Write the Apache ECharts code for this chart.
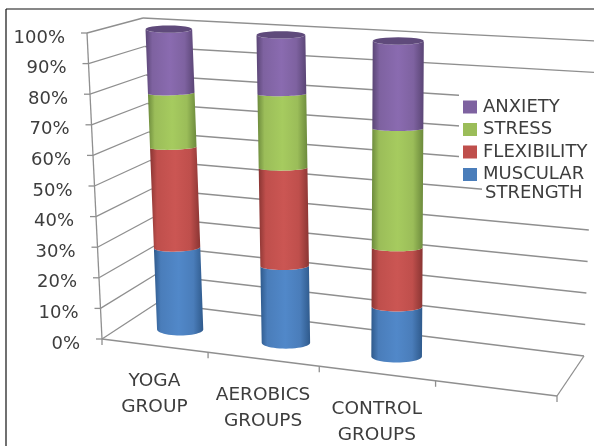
<!DOCTYPE html>
<html>
<head>
<meta charset="utf-8">
<style>html,body{margin:0;padding:0;background:#fff}#chart{width:594px;height:446px}</style>
<script src="https://cdn.jsdelivr.net/npm/echarts@6/dist/echarts.min.js"></script>
</head>
<body>
<div id="chart"></div>
<script>
// Chart content
const categories = ['YOGA\nGROUP', 'AEROBICS\nGROUPS', 'CONTROL\nGROUPS', ''];
const yTickLabels = ['0%', '10%', '20%', '30%', '40%', '50%', '60%', '70%', '80%', '90%', '100%'];
const seriesNames = ['MUSCULAR', 'FLEXIBILITY', 'STRESS', 'ANXIETY'];
const muscular = [27.3, 25.0, 15.8];
const flexibility = [33.4, 31.8, 18.7];
const stress = [18.0, 24.0, 37.7];
const anxiety = [21.3, 19.2, 27.8];
const stacked = [muscular, flexibility, stress, anxiety];

// Shaded cylinder colours, bottom segment first: edge, body, highlight
const shades = [
  ['#2f5a8c', '#4a7dba', '#5188c9'],
  ['#8a3533', '#bf4f4c', '#cb5653'],
  ['#6c8a3c', '#9bbd59', '#a6cb5f'],
  ['#5a4575', '#7e62a0', '#8a6bb0']
];

// Corners of the drawn box: front/back, left/right, floor/ceiling
const GRID = { left: 102, top: 33, width: 455, height: 306 };
const BOX = {
  flb: [102, 339], frb: [557, 396], blb: [157, 303], brb: [584, 356],
  flt: [87, 33], frt: [569, 58], blt: [143, 18], brt: [596, 41]
};
const WIDEN = -0.09;    // slots grow slightly toward the right
const BAR_DEPTH = 0.45; // cylinder axis position between front and back
const BAR_SHIFT = 0.006;
const BAR_HALF = 0.053;

const mix = (a, b, t) => [a[0] + (b[0] - a[0]) * t, a[1] + (b[1] - a[1]) * t];

function project(u, v, w) {
  const s = u + WIDEN * u * (1 - u);
  const floor = mix(mix(BOX.flb, BOX.frb, s), mix(BOX.blb, BOX.brb, s), v);
  const ceil = mix(mix(BOX.flt, BOX.frt, s), mix(BOX.blt, BOX.brt, s), v);
  return mix(floor, ceil, w);
}

// Axis pixels to box fractions
const toUW = (p) => [(p[0] - GRID.left) / GRID.width, (GRID.top + GRID.height - p[1]) / GRID.height];

const LINE = { stroke: '#8f8f8f', lineWidth: 1.3 };
const TEXT = '#3d3d3d';
const seg = (a, b, style) => ({
  type: 'line',
  shape: { x1: a[0], y1: a[1], x2: b[0], y2: b[1] },
  style: style || LINE
});

function renderFrame(params, api) {
  const kids = [];
  // Outer frame: top and left edges
  const frame = { stroke: '#111', lineWidth: 1.2 };
  kids.push(seg([6, 9], [594, 9], frame), seg([6, 9], [6, 446], frame));

  // Gridlines on both walls with value ticks and labels
  yTickLabels.forEach((label, i) => {
    const val = i * 10;
    const [, w] = toUW(api.coord([0, val]));
    const fl = project(0, 0, w), bl = project(0, 1, w), br = project(1, 1, w);
    kids.push(seg(fl, bl), seg(bl, br), seg([fl[0] - 6, fl[1]], fl));
    kids.push({
      type: 'text',
      style: {
        text: label, x: fl[0] - 22, y: fl[1] + 5, align: 'right', verticalAlign: 'middle',
        font: '18px "DejaVu Sans"', fill: TEXT
      }
    });
  });
  // Value axis and floor outline
  kids.push(seg(project(0, 0, 0), project(0, 0, 1)));
  kids.push(seg(project(0, 0, 0), project(1, 0, 0)));
  kids.push(seg(project(1, 0, 0), project(1, 1, 0)));

  // Category ticks and labels along the front floor edge
  for (let k = 0; k <= categories.length; k++) {
    const p = project(k / categories.length, 0, 0);
    kids.push(seg(p, [p[0], p[1] + 6]));
  }
  categories.forEach((name, i) => {
    if (!name) return;
    const [u] = toUW(api.coord([i, 0]));
    const p = project(u, 0, 0);
    kids.push({
      type: 'text',
      style: {
        text: name, x: p[0], y: p[1] + 49, align: 'center', verticalAlign: 'middle',
        font: '18.5px "DejaVu Sans"', lineHeight: 26, fill: TEXT
      }
    });
  });

  // Legend backdrop hides the gridlines running behind it
  kids.push({ type: 'rect', shape: { x: 459, y: 92, width: 135, height: 88 }, style: { fill: '#fff' } });
  kids.push({ type: 'rect', shape: { x: 482, y: 180, width: 112, height: 26 }, style: { fill: '#fff' } });
  return { type: 'group', children: kids };
}

// Sagging front edge of a cylinder slice, from angle a to angle b; tilt lifts its right side
function arc(c, rx, ry, tilt, a, b) {
  const pts = [];
  for (let i = 0; i <= 24; i++) {
    const t = a + (b - a) * i / 24;
    const dx = rx * Math.cos(t);
    pts.push([c[0] + dx, c[1] + ry * Math.sin(t) - tilt * dx]);
  }
  return pts;
}

function makeBand(s) {
  return function (params, api) {
    const i = api.value(0);
    const pLow = api.coord([i, api.value(1)]);
    const pHigh = api.coord([i, api.value(2)]);
    const [uc, w0] = toUW(pLow);
    const [, w1] = toUW(pHigh);
    const u = uc + BAR_SHIFT;
    // Slices near the top show a flatter rim; the floor and cap rims are drawn as full ellipses
    const ryAt = (w) => (w >= 0.999 ? 3.7 : 2 + 4 * (1 - w) * (1 - w));
    const tiltAt = (w) => (w > 0 && w < 0.999 ? 0.03 * (1 - (uc - 0.125) / 0.5) : 0);
    const rxAt = (w) => (project(u + BAR_HALF, BAR_DEPTH, w)[0] - project(u, BAR_DEPTH, w)[0]) * (1 + 0.05 * (1 - w));
    const c0 = project(u, BAR_DEPTH, w0);
    const c1 = project(u, BAR_DEPTH, w1);
    const [edge, body, light] = shades[s];
    const fill = {
      type: 'linear', x: 0, y: 0, x2: 1, y2: 0,
      colorStops: [
        { offset: 0, color: edge }, { offset: 0.14, color: body },
        { offset: 0.5, color: light }, { offset: 0.8, color: body }, { offset: 1, color: edge }
      ]
    };
    const pts = arc(c1, rxAt(w1), ryAt(w1), tiltAt(w1), Math.PI, 0)
      .concat(arc(c0, rxAt(w0), ryAt(w0), tiltAt(w0), 0, Math.PI));
    const kids = [{ type: 'polygon', shape: { points: pts }, style: { fill } }];
    if (s === shades.length - 1) {
      kids.push({
        type: 'polygon',
        shape: { points: arc(c1, rxAt(w1), ryAt(w1), 0, 0, Math.PI * 2) },
        style: { fill: '#5f4a7b' }
      });
    }
    return { type: 'group', children: kids };
  };
}

const chart = echarts.init(document.getElementById('chart'), null, { renderer: 'canvas' });

const bandSeries = stacked.map((values, s) => ({
  type: 'custom',
  name: seriesNames[s],
  renderItem: makeBand(s),
  itemStyle: { color: shades[s][1] },
  encode: { x: 0, y: [1, 2] },
  silent: true,
  data: values.map((v, i) => {
    let base = 0;
    for (let k = 0; k < s; k++) base += stacked[k][i];
    return [i, base, base + v];
  })
}));

chart.setOption({
  animation: false,
  grid: GRID,
  xAxis: { type: 'category', data: categories, show: false },
  yAxis: { type: 'value', min: 0, max: 100, interval: 10, show: false },
  legend: {
    orient: 'vertical',
    left: 463,
    top: 98,
    padding: 0,
    icon: 'rect',
    itemWidth: 14,
    itemHeight: 13,
    itemGap: 4.5,
    selectedMode: false,
    data: seriesNames.slice().reverse(),
    textStyle: { fontFamily: 'DejaVu Sans', fontSize: 18, color: TEXT, padding: [0, 0, 0, 1] }
  },
  graphic: [{
    type: 'text', left: 485, top: 184, z: 10,
    style: { text: 'STRENGTH', font: '18px "DejaVu Sans"', fill: TEXT }
  }],
  series: [{
    type: 'custom',
    name: 'frame',
    renderItem: renderFrame,
    silent: true,
    clip: false,
    data: [[0, 0]]
  }].concat(bandSeries)
});
</script>
</body>
</html>
